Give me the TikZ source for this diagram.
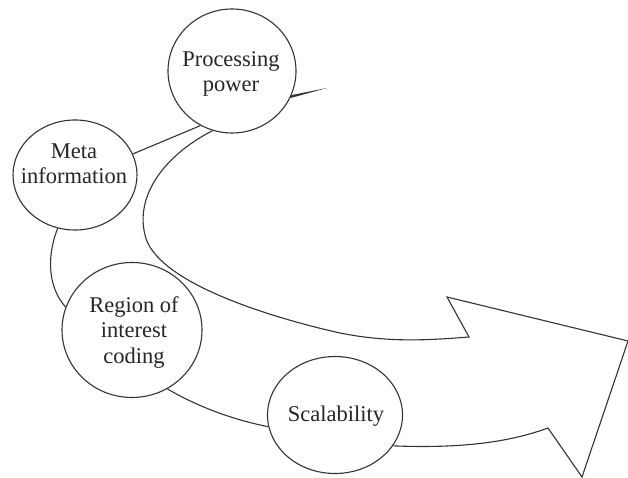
\documentclass[tikz,border=0pt]{standalone}
\usepackage{fontspec}
\setmainfont{Liberation Serif}
\newfontfamily\bubblefont{Liberation Serif}
\usetikzlibrary{shapes.geometric,backgrounds}
\begin{document}
\begin{tikzpicture}[x=1pt,y=-1pt,
  ln/.style={draw=black!80, line width=1.1pt, line join=miter},
  bubble/.style={ellipse, ln, fill=white, inner sep=0pt},
  caption/.style={anchor=base, inner sep=0pt, align=center,
    font=\bubblefont\fontsize{22.5}{25.5}\selectfont, text=black!85},
]
\useasboundingbox (0,0) rectangle (628,478);

% topic bubbles
\node[bubble, minimum width=128pt, minimum height=124pt] (proc) at (232,71) {};
\node[bubble, minimum width=124pt, minimum height=110pt] (meta) at (75,175) {};
\node[bubble, minimum width=140pt, minimum height=135pt] (roi) at (132,330) {};
\node[bubble, minimum width=135pt, minimum height=117pt] (scal) at (335,415) {};

% bubble captions (anchored on the baseline of the last line)
\node[caption] (proctext) at (231,92) {Processing\\power};
\node[caption] (metatext) at (74,184) {Meta\\information};
\node[caption] (roitext) at (134,363) {Region of\\interest\\coding};
\node[caption] (scaltext) at (336,421) {Scalability};

\coordinate (tail) at (327,88);
\coordinate (notchtop) at (469,337);
\coordinate (barbtop) at (447,297);
\coordinate (tip) at (628,341);
\coordinate (barbbot) at (582,477);
\coordinate (notchbot) at (548,428);

\begin{scope}[on background layer]
  % small tail on the first bubble
  \fill[black!80] (proc.-22) -- (tail) -- (proc.-25) -- cycle;
  % links between bubbles
  \draw[ln] (meta.20) -- (proc.240);
  \draw[ln] (meta.252) .. controls (48,252) and (46,285) .. (roi.161);
  \draw[ln] (roi.-59) .. controls (200,408) and (235,420) .. (scal.190);
  % the big curved arrow
  \draw[ln] (proc.252) .. controls (165,155) and (135,195) .. (145,235)
            .. controls (155,280) and (260,315) .. (340,333)
            .. controls (390,343) and (430,340) .. (notchtop)
            -- (barbtop) -- (tip) -- (barbbot) -- (notchbot)
            .. controls (515,440) and (470,449) .. (scal.-28);
\end{scope}
\end{tikzpicture}
\end{document}
